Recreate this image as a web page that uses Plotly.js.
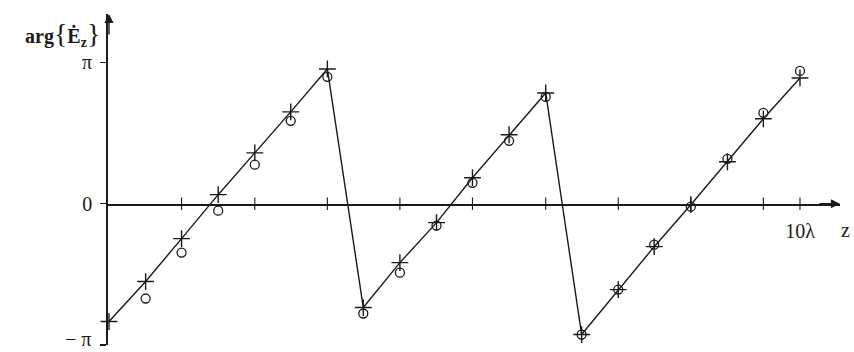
<!DOCTYPE html>
<html>
<head>
<meta charset="utf-8">
<script src="https://cdn.plot.ly/plotly-3.0.1.min.js"></script>
<style>html,body{margin:0;padding:0;background:#fff;}#plot{width:854px;height:352px;}</style>
</head>
<body>
<div id="plot"></div>
<script>
// z positions of the sample points, in wavelengths
const zPos = [0, 0.53, 1.05, 1.58, 2.11, 2.63, 3.16, 3.68, 4.21, 4.74, 5.26, 5.79, 6.32, 6.84, 7.37, 7.89, 8.42, 8.95, 9.47, 10];
// phase of E_z in units of pi: "+" markers (joined by the line)
const phaseCross = [-0.834, -0.551, -0.247, 0.064, 0.360, 0.650, 0.954, -0.735, -0.417, -0.134, 0.184, 0.488, 0.784, -0.926, -0.608, -0.304, -0.007, 0.297, 0.601, 0.890];
// phase of E_z in units of pi: "o" markers
const phaseCircle = [null, -0.671, -0.346, -0.049, 0.276, 0.587, 0.898, -0.777, -0.488, -0.155, 0.148, 0.445, 0.756, -0.926, -0.608, -0.290, -0.021, 0.318, 0.643, 0.940];
// tick marks along the z axis
const zTicks = [1.05, 2.11, 3.16, 4.21, 5.26, 6.32, 7.37, 8.42, 9.47, 10];
const zTickLabels = ['', '', '', '', '', '', '', '', '', '10λ'];
const yTicks = [-1, 0, 1];
const yTickLabels = ['', '0', 'π'];
const yBottomLabel = '− π';

const serif = 'Liberation Serif, DejaVu Serif, serif';
const ink = '#1a1a1a';

const traces = [
  {
    x: zTicks, y: zTicks.map(() => 0), mode: 'markers', type: 'scatter',
    marker: {symbol: 'line-ns', size: 9, line: {color: ink, width: 1.1}},
    cliponaxis: false, hoverinfo: 'skip', showlegend: false
  },
  {
    x: zPos, y: phaseCross, mode: 'lines+markers', type: 'scatter',
    line: {color: ink, width: 1.4},
    marker: {symbol: 'cross-thin', size: 12, line: {color: ink, width: 1.4}},
    cliponaxis: false, showlegend: false
  },
  {
    x: zPos, y: phaseCircle, mode: 'markers', type: 'scatter',
    marker: {symbol: 'circle-open', size: 9, color: ink, line: {color: ink, width: 1.3}},
    cliponaxis: false, showlegend: false
  }
];

const layout = {
  width: 854, height: 352,
  margin: {l: 108, r: 14, t: 14, b: 7},
  paper_bgcolor: '#fff', plot_bgcolor: '#fff',
  showlegend: false,
  font: {family: serif, color: ink, size: 19},
  xaxis: {
    range: [-0.0145, 10.579],
    anchor: 'free', position: 0.426,
    showline: true, linecolor: ink, linewidth: 1.8,
    showgrid: false, zeroline: false,
    tickvals: zTicks, ticktext: zTickLabels,
    ticks: '', ticklabelstandoff: 8,
    tickfont: {family: serif, size: 20, color: ink}
  },
  yaxis: {
    range: [-1.0, 1.3428],
    showline: true, linecolor: ink, linewidth: 1.8,
    showgrid: false, zeroline: false,
    tickvals: yTicks, ticktext: yTickLabels,
    ticks: 'outside', ticklen: 6, tickwidth: 1.2, tickcolor: ink,
    ticklabelstandoff: 4,
    tickfont: {family: serif, size: 20, color: ink}
  },
  annotations: [
    {
      xref: 'paper', yref: 'paper', x: -0.008, y: 0.94,
      xanchor: 'right', yanchor: 'middle', showarrow: false,
      text: '<b>arg</b><span style="font-size:28px">{</span><b>Ė<sub>z</sub></b><span style="font-size:28px">}</span>',
      font: {family: serif, size: 20, color: ink}
    },
    {
      xref: 'paper', yref: 'paper', x: -0.02, y: 0.018,
      xanchor: 'right', yanchor: 'middle', showarrow: false,
      text: yBottomLabel, font: {family: serif, size: 20, color: ink}
    },
    {
      xref: 'paper', yref: 'paper', x: 0.998, y: 0.347,
      xanchor: 'left', yanchor: 'middle', showarrow: false,
      text: 'z', font: {family: serif, size: 20, color: ink}
    },
    {
      xref: 'x', yref: 'y', x: 0, y: 1.3428, text: '',
      showarrow: true, arrowhead: 2, arrowsize: 1.3, arrowwidth: 1.4, arrowcolor: ink,
      ax: 0, ay: 22
    },
    {
      xref: 'x', yref: 'y', x: 10.579, y: 0, text: '',
      showarrow: true, arrowhead: 2, arrowsize: 1.3, arrowwidth: 1.4, arrowcolor: ink,
      ax: -22, ay: 0
    }
  ]
};

Plotly.newPlot('plot', traces, layout, {staticPlot: true, displayModeBar: false});
</script>
</body>
</html>
